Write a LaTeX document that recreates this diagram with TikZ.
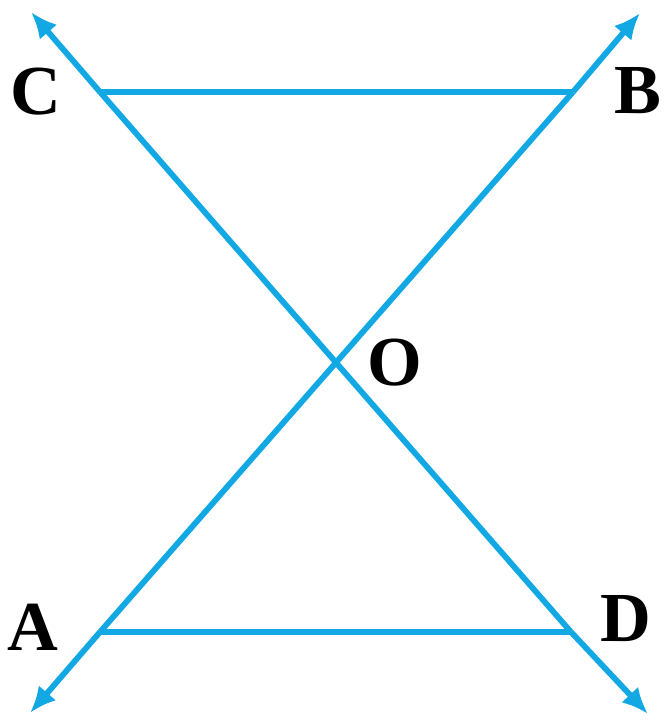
\documentclass[tikz,border=0pt]{standalone}
\usepackage{fontspec}
\setmainfont{Liberation Serif}
\usetikzlibrary{arrows.meta,calc,positioning}
\definecolor{linecyan}{RGB}{18,168,228}

\begin{document}
\begin{tikzpicture}[x=0.02cm,y=-0.02cm,
    geoline/.style={line width=3.3pt,draw=linecyan},
    ray/.style={geoline,-{Latex[length=15pt,width=13pt]}},
    pointlabel/.style={font=\fontsize{40}{44}\selectfont\bfseries,inner sep=0pt}]
      \useasboundingbox (0,0) rectangle (664,720);
      % points
      \coordinate (A) at (100,632);
      \coordinate (B) at (573,92);
      \coordinate (C) at (100,92);
      \coordinate (D) at (571,632);
      \coordinate (O) at (337,364);
      % ends of the lines
      \coordinate (endAB1) at (30,713);
      \coordinate (endAB2) at (640,13);
      \coordinate (endCD1) at (31,12);
      \coordinate (endCD2) at (648,714);
      % the two lines through O
      \draw[ray] (A) -- (endAB1);
      \draw[ray] (B) -- (endAB2);
      \draw[geoline] (A) -- (B);
      \draw[ray] (C) -- (endCD1);
      \draw[ray] (D) -- (endCD2);
      \draw[geoline] (C) -- (D);
      % parallel segments
      \draw[geoline] (C) -- (B);
      \draw[geoline] (A) -- (D);
      % labels
      \node[pointlabel] (labC) at (36,92) {C};
      \node[pointlabel] (labB) at (638,91) {B};
      \node[pointlabel] (labA) at (33,627) {A};
      \node[pointlabel] (labD) at (626,619) {D};
      \node[pointlabel] (labO) at (395,363) {O};
    \end{tikzpicture}
\end{document}
